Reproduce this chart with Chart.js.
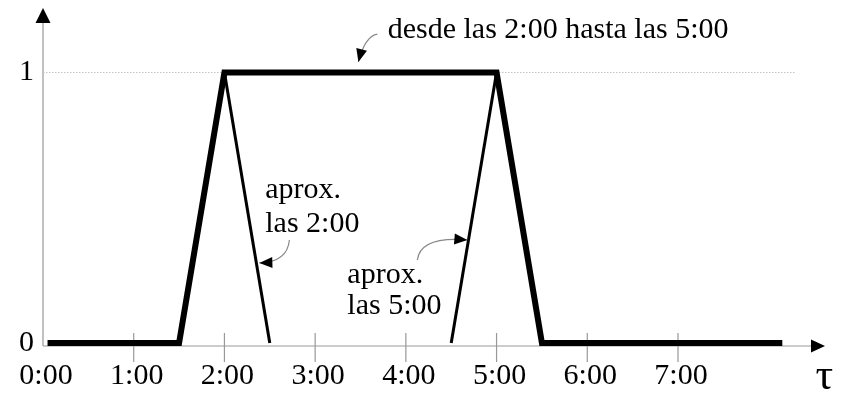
<!DOCTYPE html>
<html>
<head>
<meta charset="utf-8">
<style>
  html, body { margin: 0; padding: 0; background: #fff; }
  #wrap { width: 844px; height: 393px; }
</style>
<script src="https://cdn.jsdelivr.net/npm/chart.js@4/dist/chart.umd.min.js"></script>
</head>
<body>
<div id="wrap"><canvas id="c" width="844" height="393"></canvas></div>
<script>
// Trapezoid membership: "desde las 2:00 hasta las 5:00"
const hours = [0.05, 1.5, 2, 5, 5.5, 8.15];
const level = [0, 0, 1, 1, 0, 0];

// "aprox. las 2:00" falling edge
const earlyHours = [2, 2.5];
const earlyLevel = [1, 0];

// "aprox. las 5:00" rising edge
const lateHours = [4.5, 5];
const lateLevel = [0, 1];

// dotted guide at level 1
const guideHours = [0, 8.29];
const guideLevel = [1, 1];

const xTickValues = [0, 1, 2, 3, 4, 5, 6, 7];
const xTickLabels = ['0:00', '1:00', '2:00', '3:00', '4:00', '5:00', '6:00', '7:00'];
const yTickValues = [0, 1];
const yTickLabels = ['0', '1'];

const SERIF = '"Liberation Serif", "Times New Roman", serif';
const toPts = (xs, ys) => xs.map((x, i) => ({ x: x, y: ys[i] }));

// axes with arrowheads and tick marks that cross the time axis
const axesPlugin = {
  id: 'arrowAxes',
  beforeDatasetsDraw(chart) {
    const { ctx, scales: { x, y } } = chart;
    const x0 = x.getPixelForValue(0);
    const yAxis = y.getPixelForValue(0) + 3;
    ctx.save();
    ctx.strokeStyle = '#999';
    ctx.lineWidth = 1.2;
    ctx.beginPath();
    ctx.moveTo(x0, yAxis);
    ctx.lineTo(x0, 22);
    ctx.moveTo(x0, yAxis);
    ctx.lineTo(812, yAxis);
    xTickValues.forEach(v => {
      if (v === 0) return;
      const px = x.getPixelForValue(v);
      ctx.moveTo(px, yAxis - 13);
      ctx.lineTo(px, yAxis + 16);
    });
    ctx.stroke();
    ctx.fillStyle = '#000';
    ctx.beginPath();
    ctx.moveTo(x0, 8);
    ctx.lineTo(x0 - 7.5, 23);
    ctx.lineTo(x0 + 7.5, 23);
    ctx.closePath();
    ctx.fill();
    ctx.beginPath();
    ctx.moveTo(825, yAxis);
    ctx.lineTo(811, yAxis - 6.5);
    ctx.lineTo(811, yAxis + 6.5);
    ctx.closePath();
    ctx.fill();
    ctx.restore();
  },
  afterDraw(chart) {
    const { ctx, scales: { x, y } } = chart;
    const P = (h, v) => [x.getPixelForValue(h), y.getPixelForValue(v)];
    ctx.save();
    ctx.fillStyle = '#000';
    ctx.textBaseline = 'alphabetic';
    ctx.textAlign = 'left';
    ctx.font = '30px ' + SERIF;
    const text = (s, h, v) => { const [px, py] = P(h, v); ctx.fillText(s, px, py); };
    text('desde las 2:00 hasta las 5:00', 3.80, 1.128);
    text('aprox.', 2.45, 0.536);
    text('las 2:00', 2.45, 0.410);
    text('aprox.', 3.355, 0.222);
    text('las 5:00', 3.355, 0.107);

    ctx.font = '44px ' + SERIF;
    text('\u03C4', 8.515, -0.17);

    // curved pointer with a filled head at its end
    const pointer = (a, c, b) => {
      const [ax, ay] = P(a[0], a[1]);
      const [cx, cy] = P(c[0], c[1]);
      const [bx, by] = P(b[0], b[1]);
      ctx.strokeStyle = '#888';
      ctx.lineWidth = 1.2;
      ctx.beginPath();
      ctx.moveTo(ax, ay);
      ctx.quadraticCurveTo(cx, cy, bx, by);
      ctx.stroke();
      const ang = Math.atan2(by - cy, bx - cx);
      const len = 13, half = 5.5;
      const baseX = bx - len * Math.cos(ang), baseY = by - len * Math.sin(ang);
      ctx.fillStyle = '#000';
      ctx.beginPath();
      ctx.moveTo(bx, by);
      ctx.lineTo(baseX + half * Math.sin(ang), baseY - half * Math.cos(ang));
      ctx.lineTo(baseX - half * Math.sin(ang), baseY + half * Math.cos(ang));
      ctx.closePath();
      ctx.fill();
    };
    pointer([3.686, 1.142], [3.55, 1.135], [3.477, 1.039]);
    pointer([2.716, 0.381], [2.694, 0.299], [2.385, 0.296]);
    pointer([4.127, 0.307], [4.16, 0.395], [4.678, 0.381]);
    ctx.restore();
  }
};

new Chart(document.getElementById('c'), {
  type: 'line',
  data: {
    datasets: [
      {
        data: toPts(guideHours, guideLevel),
        borderColor: '#c4c4c4', borderWidth: 1, borderDash: [1.5, 1.5],
        pointRadius: 0, clip: false, order: 3
      },
      {
        data: toPts(earlyHours, earlyLevel),
        borderColor: '#000', borderWidth: 3, pointRadius: 0, clip: false, order: 2
      },
      {
        data: toPts(lateHours, lateLevel),
        borderColor: '#000', borderWidth: 3, pointRadius: 0, clip: false, order: 2
      },
      {
        data: toPts(hours, level),
        borderColor: '#000', borderWidth: 6, borderJoinStyle: 'miter',
        pointRadius: 0, clip: false, order: 1
      }
    ]
  },
  options: {
    responsive: false,
    animation: false,
    events: [],
    layout: { padding: { top: 0, right: 0, bottom: 0, left: 0 } },
    plugins: { legend: { display: false }, tooltip: { enabled: false } },
    scales: {
      x: {
        type: 'linear', min: 0, max: 8.83,
        grid: { display: false, drawTicks: false }, border: { display: false },
        afterBuildTicks: s => { s.ticks = xTickValues.map(v => ({ value: v })); },
        afterFit: s => { s.height = 50; s.paddingLeft = 0; s.paddingRight = 0; },
        ticks: {
          autoSkip: false, maxRotation: 0, padding: 15, labelOffset: 3,
          color: '#000', font: { family: SERIF, size: 30 },
          callback: v => xTickLabels[xTickValues.indexOf(v)]
        }
      },
      y: {
        type: 'linear', min: 0, max: 1.268,
        grid: { display: false, drawTicks: false }, border: { display: false },
        afterBuildTicks: s => { s.ticks = yTickValues.map(v => ({ value: v })); },
        afterFit: s => { s.width = 43; s.paddingTop = 0; s.paddingBottom = 0; },
        ticks: {
          padding: 9, color: '#000', font: { family: SERIF, size: 30 },
          callback: v => yTickLabels[yTickValues.indexOf(v)]
        }
      }
    }
  },
  plugins: [axesPlugin]
});
</script>
</body>
</html>
